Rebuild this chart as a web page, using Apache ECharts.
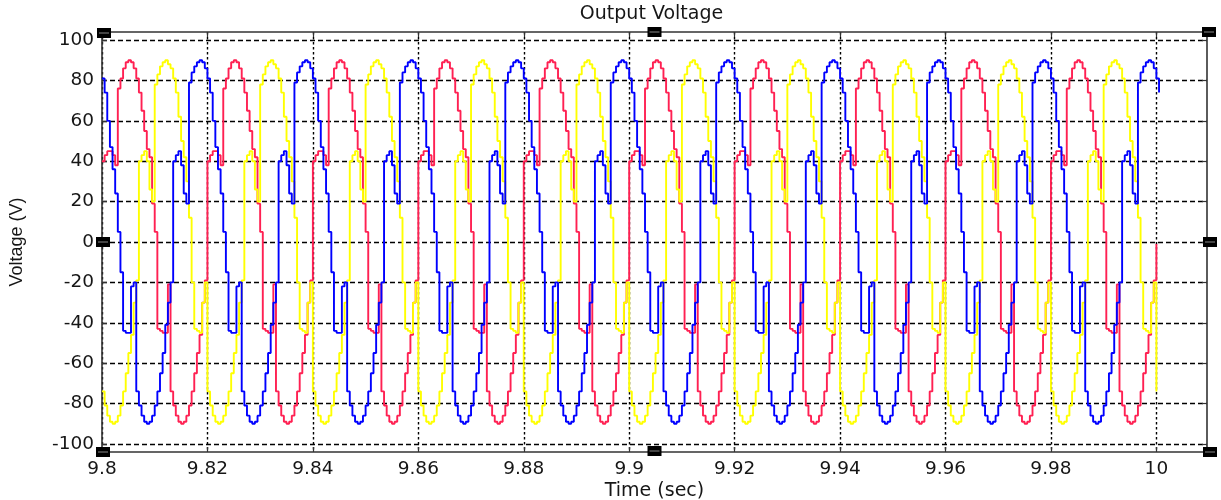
<!DOCTYPE html>
<html>
<head>
<meta charset="utf-8">
<script src="https://cdn.jsdelivr.net/npm/echarts@6/dist/echarts.min.js"></script>
<style>
html,body{margin:0;padding:0;background:#ffffff;}
#chart{width:1221px;height:500px;}
</style>
</head>
<body>
<div id="chart"></div>
<script>
// ---- data ----
const chartTitle = 'Output Voltage';
const xAxisName = 'Time (sec)';
const yAxisName = 'Voltage (V)';
const startTime = 9.8;        // s, first sample
const sampleStep = 0.0005;    // s, sample spacing of the stepped traces
const xMin = 9.8, xMax = 10.0096;
const yMin = -104, yMax = 104;
const xTickValues = [9.8, 9.82, 9.84, 9.86, 9.88, 9.9, 9.92, 9.94, 9.96, 9.98, 10];
const yTickValues = [-100, -80, -60, -40, -20, 0, 20, 40, 60, 80, 100];

// phase voltages (V), one value per sample
const redVoltage = [
  40,43,45,45,43,38,76,81,86,89,90,89,86,81,74,65,55,46,42,19,5,-43,-44,-45,-45,-21,-74,-81,-86,-89,-90,-89,-86,-81,-74,-65,-55,-46,-30,-19,
  40,43,45,45,43,38,76,81,86,89,90,89,86,81,74,65,55,46,42,19,5,-43,-44,-45,-45,-21,-74,-81,-86,-89,-90,-89,-86,-81,-74,-65,-55,-46,-30,-19,
  40,43,45,45,43,38,76,81,86,89,90,89,86,81,74,65,55,46,42,19,5,-43,-44,-45,-45,-21,-74,-81,-86,-89,-90,-89,-86,-81,-74,-65,-55,-46,-30,-19,
  40,43,45,45,43,38,76,81,86,89,90,89,86,81,74,65,55,46,42,19,5,-43,-44,-45,-45,-21,-74,-81,-86,-89,-90,-89,-86,-81,-74,-65,-55,-46,-30,-19,
  40,43,45,45,43,38,76,81,86,89,90,89,86,81,74,65,55,46,42,19,5,-43,-44,-45,-45,-21,-74,-81,-86,-89,-90,-89,-86,-81,-74,-65,-55,-46,-30,-19,
  40,43,45,45,43,38,76,81,86,89,90,89,86,81,74,65,55,46,42,19,5,-43,-44,-45,-45,-21,-74,-81,-86,-89,-90,-89,-86,-81,-74,-65,-55,-46,-30,-19,
  40,43,45,45,43,38,76,81,86,89,90,89,86,81,74,65,55,46,42,19,5,-43,-44,-45,-45,-21,-74,-81,-86,-89,-90,-89,-86,-81,-74,-65,-55,-46,-30,-19,
  40,43,45,45,43,38,76,81,86,89,90,89,86,81,74,65,55,46,42,19,5,-43,-44,-45,-45,-21,-74,-81,-86,-89,-90,-89,-86,-81,-74,-65,-55,-46,-30,-19,
  40,43,45,45,43,38,76,81,86,89,90,89,86,81,74,65,55,46,42,19,5,-43,-44,-45,-45,-21,-74,-81,-86,-89,-90,-89,-86,-81,-74,-65,-55,-46,-30,-19,
  40,43,45,45,43,38,76,81,86,89,90,89,86,81,74,65,55,46,42,19,5,-43,-44,-45,-45,-21,-74,-81,-86,-89,-90,-89,-86,-81,-74,-65,-55,-46,-30,-19,
  -1
];
const yellowVoltage = [
  -74,-81,-86,-89,-90,-89,-86,-81,-74,-65,-55,-46,-30,-19,
  40,43,45,40,26,20,78,83,87,89,90,88,86,81,74,62,50,42,30,12,-20,-43,-44,-45,-30,-20,-74,-81,-86,-89,-90,-89,-86,-81,-74,-65,-55,-46,-30,-19,
  40,43,45,40,26,20,78,83,87,89,90,88,86,81,74,62,50,42,30,12,-20,-43,-44,-45,-30,-20,-74,-81,-86,-89,-90,-89,-86,-81,-74,-65,-55,-46,-30,-19,
  40,43,45,40,26,20,78,83,87,89,90,88,86,81,74,62,50,42,30,12,-20,-43,-44,-45,-30,-20,-74,-81,-86,-89,-90,-89,-86,-81,-74,-65,-55,-46,-30,-19,
  40,43,45,40,26,20,78,83,87,89,90,88,86,81,74,62,50,42,30,12,-20,-43,-44,-45,-30,-20,-74,-81,-86,-89,-90,-89,-86,-81,-74,-65,-55,-46,-30,-19,
  40,43,45,40,26,20,78,83,87,89,90,88,86,81,74,62,50,42,30,12,-20,-43,-44,-45,-30,-20,-74,-81,-86,-89,-90,-89,-86,-81,-74,-65,-55,-46,-30,-19,
  40,43,45,40,26,20,78,83,87,89,90,88,86,81,74,62,50,42,30,12,-20,-43,-44,-45,-30,-20,-74,-81,-86,-89,-90,-89,-86,-81,-74,-65,-55,-46,-30,-19,
  40,43,45,40,26,20,78,83,87,89,90,88,86,81,74,62,50,42,30,12,-20,-43,-44,-45,-30,-20,-74,-81,-86,-89,-90,-89,-86,-81,-74,-65,-55,-46,-30,-19,
  40,43,45,40,26,20,78,83,87,89,90,88,86,81,74,62,50,42,30,12,-20,-43,-44,-45,-30,-20,-74,-81,-86,-89,-90,-89,-86,-81,-74,-65,-55,-46,-30,-19,
  40,43,45,40,26,20,78,83,87,89,90,88,86,81,74,62,50,42,30,12,-20,-43,-44,-45,-30,-20,-74,-81,-86,-89,-90,-89,-86,-81,-74,-65,-55,-46,-30,-19,
  40,43,45,40,26,20,78,83,87,89,90,88,86,81,74,62,50,42,30,12,-20,-43,-44,-45,-30,-20,-74
];
const blueVoltage = [
  81,74,60,47,36,24,5,-15,-44,-45,-45,-22,-20,-74,-81,-86,-89,-90,-89,-86,-81,-74,-65,-55,-41,-30,-20,
  40,43,45,38,24,19,79,84,87,89,90,89,86,81,74,60,47,36,24,5,-15,-44,-45,-45,-22,-20,-74,-81,-86,-89,-90,-89,-86,-81,-74,-65,-55,-41,-30,-20,
  40,43,45,38,24,19,79,84,87,89,90,89,86,81,74,60,47,36,24,5,-15,-44,-45,-45,-22,-20,-74,-81,-86,-89,-90,-89,-86,-81,-74,-65,-55,-41,-30,-20,
  40,43,45,38,24,19,79,84,87,89,90,89,86,81,74,60,47,36,24,5,-15,-44,-45,-45,-22,-20,-74,-81,-86,-89,-90,-89,-86,-81,-74,-65,-55,-41,-30,-20,
  40,43,45,38,24,19,79,84,87,89,90,89,86,81,74,60,47,36,24,5,-15,-44,-45,-45,-22,-20,-74,-81,-86,-89,-90,-89,-86,-81,-74,-65,-55,-41,-30,-20,
  40,43,45,38,24,19,79,84,87,89,90,89,86,81,74,60,47,36,24,5,-15,-44,-45,-45,-22,-20,-74,-81,-86,-89,-90,-89,-86,-81,-74,-65,-55,-41,-30,-20,
  40,43,45,38,24,19,79,84,87,89,90,89,86,81,74,60,47,36,24,5,-15,-44,-45,-45,-22,-20,-74,-81,-86,-89,-90,-89,-86,-81,-74,-65,-55,-41,-30,-20,
  40,43,45,38,24,19,79,84,87,89,90,89,86,81,74,60,47,36,24,5,-15,-44,-45,-45,-22,-20,-74,-81,-86,-89,-90,-89,-86,-81,-74,-65,-55,-41,-30,-20,
  40,43,45,38,24,19,79,84,87,89,90,89,86,81,74,60,47,36,24,5,-15,-44,-45,-45,-22,-20,-74,-81,-86,-89,-90,-89,-86,-81,-74,-65,-55,-41,-30,-20,
  40,43,45,38,24,19,79,84,87,89,90,89,86,81,74,60,47,36,24,5,-15,-44,-45,-45,-22,-20,-74,-81,-86,-89,-90,-89,-86,-81,-74,-65,-55,-41,-30,-20,
  40,43,45,38,24,19,79,84,87,89,90,89,86,81,74
];

// ---- layout / style ----
const frame = { left: 102, right: 1207, top: 32, bottom: 452 };
const textColor = '#161616';
const frameColor = '#333333';
const labelFont = 'DejaVu Sans';

function toPairs(values) {
  return values.map((v, i) => [+(startTime + i * sampleStep).toFixed(4), v]);
}
function fmtX(v) { return String(+(+v).toFixed(2)); }

const chart = echarts.init(document.getElementById('chart'), null, { renderer: 'canvas' });

const handleW = 14, handleH = 10;
const handlePoints = [
  [frame.left + 2, frame.top + 1], [(frame.left + frame.right) / 2, frame.top], [frame.right + 2, frame.top],
  [frame.left + 1, (frame.top + frame.bottom) / 2], [frame.right + 3, (frame.top + frame.bottom) / 2],
  [frame.left + 1, frame.bottom], [(frame.left + frame.right) / 2, frame.bottom - 1], [frame.right + 3, frame.bottom]
];
const handles = [];
handlePoints.forEach(p => {
  handles.push({ type: 'rect', shape: { x: p[0] - handleW / 2, y: p[1] - handleH / 2, width: handleW, height: handleH },
    style: { fill: '#000' }, z: 100 });
  handles.push({ type: 'rect', shape: { x: p[0] - handleW / 2 + 2, y: p[1] - 0.5, width: handleW - 4, height: 1 },
    style: { fill: '#888' }, z: 101 });
});

const commonLine = { show: true, onZero: false, lineStyle: { color: frameColor, width: 1.6 } };

const option = {
  animation: false,
  backgroundColor: '#ffffff',
  title: {
    text: chartTitle, left: (frame.left + frame.right) / 2 - 3, top: 5, textAlign: 'center', padding: 0,
    textStyle: { fontFamily: labelFont, fontSize: 19, fontWeight: 'normal', color: textColor }
  },
  grid: { left: frame.left, right: 1221 - frame.right, top: frame.top, bottom: 500 - frame.bottom,
    containLabel: false, outerBoundsMode: 'none' },
  xAxis: [
    {
      type: 'value', position: 'bottom', min: xMin, max: xMax,
      axisLine: commonLine,
      axisTick: { show: true, inside: true, length: 5, customValues: xTickValues, lineStyle: { color: frameColor, width: 1.2 } },
      axisLabel: { show: true, customValues: xTickValues, formatter: fmtX, margin: 8,
        fontFamily: labelFont, fontSize: 18.5, color: textColor, showMaxLabel: true, showMinLabel: true },
      splitLine: { show: true, lineStyle: { color: '#000', width: 1.4, type: [2.5, 2.5] } },
      name: xAxisName, nameLocation: 'middle', nameGap: 30, nameMoveOverlap: false,
      nameTextStyle: { fontFamily: labelFont, fontSize: 19, color: textColor }
    },
    {
      type: 'value', position: 'top', min: xMin, max: xMax,
      axisLine: commonLine,
      axisTick: { show: true, inside: true, length: 5, customValues: xTickValues, lineStyle: { color: frameColor, width: 1.2 } },
      axisLabel: { show: false }, splitLine: { show: false }
    }
  ],
  yAxis: [
    {
      type: 'value', position: 'left', min: yMin, max: yMax,
      axisLine: commonLine,
      axisTick: { show: true, inside: true, length: 5, customValues: yTickValues, lineStyle: { color: frameColor, width: 1.2 } },
      axisLabel: { show: true, customValues: yTickValues, margin: 8,
        fontFamily: labelFont, fontSize: 18.5, color: textColor },
      splitLine: { show: true, lineStyle: { color: '#000', width: 1.3, type: [5, 3] } },
      name: yAxisName, nameLocation: 'middle', nameGap: 76, nameRotate: 90, nameMoveOverlap: false,
      nameTextStyle: { fontFamily: 'Liberation Sans', fontSize: 18, color: textColor }
    },
    {
      type: 'value', position: 'right', min: yMin, max: yMax,
      axisLine: commonLine,
      axisTick: { show: true, inside: true, length: 5, customValues: yTickValues, lineStyle: { color: frameColor, width: 1.2 } },
      axisLabel: { show: false }, splitLine: { show: false }
    }
  ],
  series: [
    { name: 'Phase A', type: 'line', step: 'end', xAxisIndex: 0, yAxisIndex: 0, data: toPairs(redVoltage),
      showSymbol: false, symbol: 'none', lineStyle: { color: '#ff2052', width: 1.9 }, z: 2 },
    { name: 'Phase B', type: 'line', step: 'end', xAxisIndex: 0, yAxisIndex: 0, data: toPairs(yellowVoltage),
      showSymbol: false, symbol: 'none', lineStyle: { color: '#ffff00', width: 1.9 }, z: 3 },
    { name: 'Phase C', type: 'line', step: 'end', xAxisIndex: 0, yAxisIndex: 0, data: toPairs(blueVoltage),
      showSymbol: false, symbol: 'none', lineStyle: { color: '#0000ff', width: 1.9 }, z: 4 }
  ],
  graphic: handles
};
chart.setOption(option);
</script>
</body>
</html>
